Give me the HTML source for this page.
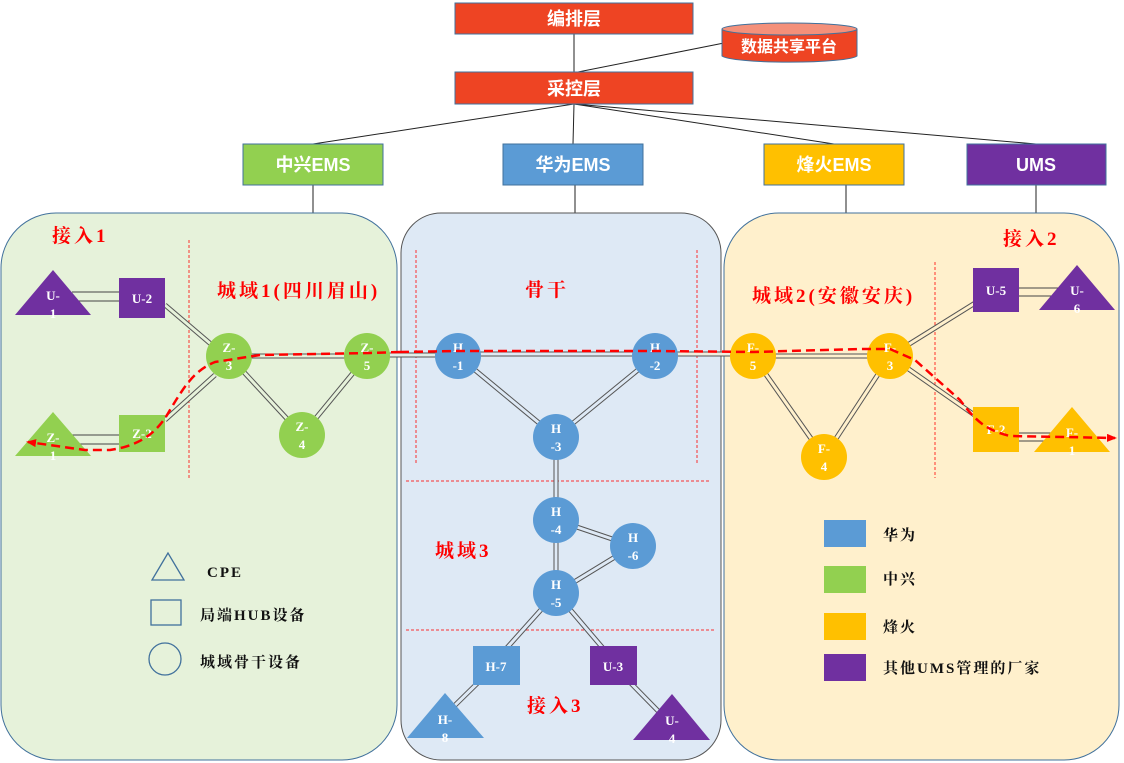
<!DOCTYPE html>
<html><head><meta charset="utf-8"><style>
html,body{margin:0;padding:0;background:#fff;width:1124px;height:763px;overflow:hidden}
svg{display:block}
.t{font-family:"Liberation Serif","Noto Serif CJK SC",serif;font-weight:bold;fill:#fff;font-size:13px;text-anchor:middle}
.r{font-family:"Liberation Serif","Noto Serif CJK SC",serif;font-weight:bold;fill:#f00;font-size:19px;letter-spacing:3px}
.h{font-family:"Liberation Sans","Noto Sans CJK SC",sans-serif;font-weight:bold;fill:#fff;font-size:18px;text-anchor:middle}
.l{font-family:"Liberation Serif","Noto Serif CJK SC",serif;font-weight:bold;fill:#111;font-size:15px;letter-spacing:2px}
</style></head><body>
<svg width="1124" height="763" viewBox="0 0 1124 763" xmlns="http://www.w3.org/2000/svg">
<defs>
<marker id="ar" markerWidth="10" markerHeight="8" refX="8" refY="4" orient="auto" markerUnits="userSpaceOnUse"><path d="M0,0 L10,4 L0,8 z" fill="#f00"/></marker>
</defs>
<g stroke="#222" stroke-width="1">
<line x1="574" y1="34" x2="574" y2="72"/>
<line x1="724" y1="43" x2="578" y2="72"/>
<line x1="574" y1="104" x2="313" y2="144"/>
<line x1="574" y1="104" x2="573" y2="144"/>
<line x1="574" y1="104" x2="834" y2="144"/>
<line x1="574" y1="104" x2="1036" y2="144"/>
<line x1="313" y1="185" x2="313" y2="213"/>
<line x1="575" y1="185" x2="575" y2="213"/>
<line x1="846" y1="185" x2="846" y2="213"/>
<line x1="1036" y1="185" x2="1036" y2="213"/>
</g>
<rect x="455" y="3" width="238" height="31" fill="#EE4423" stroke="#41719C"/>
<text x="574" y="25" class="h">编排层</text>
<rect x="455" y="72" width="238" height="32" fill="#EE4423" stroke="#41719C"/>
<text x="574" y="95" class="h">采控层</text>
<path d="M722,29 L722,56 A68,7 0 0 0 857,56 L857,29" fill="#EE4423" stroke="#41719C"/>
<ellipse cx="789.5" cy="29" rx="67.5" ry="6" fill="#F4907A" stroke="#41719C"/>
<text x="789" y="52" class="h" style="font-size:16px">数据共享平台</text>
<rect x="243" y="144" width="140" height="41" fill="#92D050" stroke="#41719C"/>
<text x="313" y="171" class="h">中兴EMS</text>
<rect x="503" y="144" width="140" height="41" fill="#5B9BD5" stroke="#41719C"/>
<text x="573" y="171" class="h">华为EMS</text>
<rect x="764" y="144" width="140" height="41" fill="#FFC000" stroke="#41719C"/>
<text x="834" y="171" class="h">烽火EMS</text>
<rect x="967" y="144" width="139" height="41" fill="#7030A0" stroke="#41719C"/>
<text x="1036" y="171" class="h">UMS</text>
<rect x="1" y="213" width="396" height="547" rx="55" fill="#E6F2DA" stroke="#41719C"/>
<rect x="401" y="213" width="320" height="547" rx="40" fill="#DEE9F5" stroke="#555"/>
<rect x="724" y="213" width="395" height="547" rx="55" fill="#FFF0CC" stroke="#41719C"/>
<g stroke="#f00" stroke-width="1" stroke-dasharray="3,2" fill="none" opacity="0.8">
<line x1="189" y1="240" x2="189" y2="478"/>
<line x1="416" y1="250" x2="416" y2="465"/>
<line x1="697" y1="250" x2="697" y2="465"/>
<line x1="935" y1="262" x2="935" y2="478"/>
<line x1="406" y1="481" x2="711" y2="481"/>
<line x1="406" y1="630" x2="714" y2="630"/>
</g>
<g fill="none">
<g stroke="#555" stroke-width="5">
<line x1="165" y1="305" x2="212" y2="345"/>
<line x1="165" y1="420" x2="215" y2="375"/>
<line x1="229" y1="356" x2="367" y2="356"/>
<line x1="229" y1="356" x2="302" y2="435"/>
<line x1="302" y1="435" x2="367" y2="356"/>
<line x1="367" y1="355" x2="458" y2="355"/>
<line x1="458" y1="356" x2="556" y2="437"/>
<line x1="655" y1="356" x2="556" y2="437"/>
<line x1="458" y1="354" x2="655" y2="354"/>
<line x1="556" y1="437" x2="556" y2="593"/>
<line x1="556" y1="520" x2="633" y2="546"/>
<line x1="633" y1="546" x2="556" y2="593"/>
<line x1="556" y1="593" x2="496" y2="660"/>
<line x1="556" y1="593" x2="613" y2="660"/>
<line x1="496" y1="665" x2="445" y2="715"/>
<line x1="613" y1="665" x2="665" y2="718"/>
<line x1="655" y1="354" x2="753" y2="354"/>
<line x1="753" y1="356" x2="890" y2="356"/>
<line x1="753" y1="356" x2="824" y2="457"/>
<line x1="824" y1="457" x2="890" y2="356"/>
<line x1="890" y1="356" x2="996" y2="290"/>
<line x1="890" y1="356" x2="996" y2="430"/>
</g>
<g stroke-width="3">
<line x1="165" y1="305" x2="212" y2="345" stroke="#E6F2DA"/>
<line x1="165" y1="420" x2="215" y2="375" stroke="#E6F2DA"/>
<line x1="229" y1="356" x2="367" y2="356" stroke="#E6F2DA"/>
<line x1="229" y1="356" x2="302" y2="435" stroke="#E6F2DA"/>
<line x1="302" y1="435" x2="367" y2="356" stroke="#E6F2DA"/>
<line x1="367" y1="355" x2="458" y2="355" stroke="#E2EDE8"/>
<line x1="458" y1="356" x2="556" y2="437" stroke="#DEE9F5"/>
<line x1="655" y1="356" x2="556" y2="437" stroke="#DEE9F5"/>
<line x1="458" y1="354" x2="655" y2="354" stroke="#DEE9F5"/>
<line x1="556" y1="437" x2="556" y2="593" stroke="#DEE9F5"/>
<line x1="556" y1="520" x2="633" y2="546" stroke="#DEE9F5"/>
<line x1="633" y1="546" x2="556" y2="593" stroke="#DEE9F5"/>
<line x1="556" y1="593" x2="496" y2="660" stroke="#DEE9F5"/>
<line x1="556" y1="593" x2="613" y2="660" stroke="#DEE9F5"/>
<line x1="496" y1="665" x2="445" y2="715" stroke="#DEE9F5"/>
<line x1="613" y1="665" x2="665" y2="718" stroke="#DEE9F5"/>
<line x1="655" y1="354" x2="753" y2="354" stroke="#F0EDDE"/>
<line x1="753" y1="356" x2="890" y2="356" stroke="#FFF0CC"/>
<line x1="753" y1="356" x2="824" y2="457" stroke="#FFF0CC"/>
<line x1="824" y1="457" x2="890" y2="356" stroke="#FFF0CC"/>
<line x1="890" y1="356" x2="996" y2="290" stroke="#FFF0CC"/>
<line x1="890" y1="356" x2="996" y2="430" stroke="#FFF0CC"/>
</g>
<g stroke="#444" stroke-width="1">
<line x1="72" y1="292" x2="119" y2="292"/>
<line x1="72" y1="301" x2="119" y2="301"/>
<line x1="72" y1="435" x2="119" y2="435"/>
<line x1="72" y1="444" x2="119" y2="444"/>
<line x1="1019" y1="288" x2="1060" y2="288"/>
<line x1="1019" y1="296" x2="1060" y2="296"/>
<line x1="1019" y1="433" x2="1055" y2="433"/>
<line x1="1019" y1="441" x2="1055" y2="441"/>
</g>
</g>
<polygon points="53,270 15,315 91,315" fill="#7030A0"/>
<text x="53" y="300" class="t">U-</text><text x="53" y="318" class="t">1</text>
<rect x="119" y="278" width="46" height="40" fill="#7030A0"/>
<text x="142" y="303" class="t">U-2</text>
<polygon points="53,412 15,456 91,456" fill="#92D050"/>
<text x="53" y="442" class="t">Z-</text><text x="53" y="460" class="t">1</text>
<rect x="119" y="415" width="46" height="37" fill="#92D050"/>
<text x="142" y="438" class="t">Z-2</text>
<g fill="#92D050">
<circle cx="229" cy="356" r="23"/><circle cx="367" cy="356" r="23"/><circle cx="302" cy="435" r="23"/>
</g>
<text x="229" y="352" class="t">Z-</text><text x="229" y="370" class="t">3</text>
<text x="367" y="352" class="t">Z-</text><text x="367" y="370" class="t">5</text>
<text x="302" y="431" class="t">Z-</text><text x="302" y="449" class="t">4</text>
<g fill="#5B9BD5">
<circle cx="458" cy="356" r="23"/><circle cx="655" cy="356" r="23"/><circle cx="556" cy="437" r="23"/>
<circle cx="556" cy="520" r="23"/><circle cx="633" cy="546" r="23"/><circle cx="556" cy="593" r="23"/>
<rect x="473" y="646" width="47" height="39"/>
<polygon points="445,693 407,738 484,738"/>
</g>
<text x="458" y="352" class="t">H</text><text x="458" y="370" class="t">-1</text>
<text x="655" y="352" class="t">H</text><text x="655" y="370" class="t">-2</text>
<text x="556" y="433" class="t">H</text><text x="556" y="451" class="t">-3</text>
<text x="556" y="516" class="t">H</text><text x="556" y="534" class="t">-4</text>
<text x="633" y="542" class="t">H</text><text x="633" y="560" class="t">-6</text>
<text x="556" y="589" class="t">H</text><text x="556" y="607" class="t">-5</text>
<text x="496" y="671" class="t">H-7</text>
<text x="445" y="724" class="t">H-</text><text x="445" y="742" class="t">8</text>
<rect x="590" y="646" width="47" height="39" fill="#7030A0"/>
<text x="613" y="671" class="t">U-3</text>
<polygon points="672,694 633,740 710,740" fill="#7030A0"/>
<text x="672" y="725" class="t">U-</text><text x="672" y="743" class="t">4</text>
<g fill="#FFC000">
<circle cx="753" cy="356" r="23"/><circle cx="890" cy="356" r="23"/><circle cx="824" cy="457" r="23"/>
<rect x="973" y="407" width="46" height="45"/>
<polygon points="1072,407 1034,452 1110,452"/>
</g>
<text x="753" y="352" class="t">F-</text><text x="753" y="370" class="t">5</text>
<text x="890" y="352" class="t">F-</text><text x="890" y="370" class="t">3</text>
<text x="824" y="453" class="t">F-</text><text x="824" y="471" class="t">4</text>
<text x="996" y="434" class="t">F-2</text>
<text x="1072" y="437" class="t">F-</text><text x="1072" y="455" class="t">1</text>
<rect x="973" y="268" width="46" height="44" fill="#7030A0"/>
<text x="996" y="295" class="t">U-5</text>
<polygon points="1077,265 1039,310 1115,310" fill="#7030A0"/>
<text x="1077" y="295" class="t">U-</text><text x="1077" y="313" class="t">6</text>
<path d="M400,352 L370,353 L260,355 L215,362 C195,370 185,385 170,410 C160,428 145,445 110,450 L85,450 L28,442" fill="none" stroke="#f00" stroke-width="2.5" stroke-dasharray="9,5" marker-end="url(#ar)"/>
<path d="M400,352 L458,351 L655,351 L753,352 L860,349 L890,349 L915,360 L960,400 C975,420 985,430 1010,436 L1115,438" fill="none" stroke="#f00" stroke-width="2.5" stroke-dasharray="9,5" marker-end="url(#ar)"/>
<text x="52" y="242" class="r">接入1</text>
<text x="217" y="297" class="r">城域1(四川眉山)</text>
<text x="525" y="296" class="r">骨干</text>
<text x="752" y="302" class="r">城域2(安徽安庆)</text>
<text x="1003" y="245" class="r">接入2</text>
<text x="435" y="557" class="r">城域3</text>
<text x="527" y="712" class="r">接入3</text>
<polygon points="168,553 152,580 184,580" fill="none" stroke="#41719C" stroke-width="1.3"/>
<text x="207" y="577" class="l">CPE</text>
<rect x="151" y="600" width="30" height="25" fill="none" stroke="#41719C" stroke-width="1.3"/>
<text x="200" y="620" class="l">局端HUB设备</text>
<circle cx="165" cy="659" r="16" fill="none" stroke="#41719C" stroke-width="1.3"/>
<text x="200" y="667" class="l">城域骨干设备</text>
<rect x="824" y="520" width="42" height="27" fill="#5B9BD5"/>
<text x="883" y="540" class="l">华为</text>
<rect x="824" y="566" width="42" height="27" fill="#92D050"/>
<text x="883" y="584" class="l">中兴</text>
<rect x="824" y="613" width="42" height="27" fill="#FFC000"/>
<text x="883" y="632" class="l">烽火</text>
<rect x="824" y="654" width="42" height="27" fill="#7030A0"/>
<text x="883" y="673" class="l">其他UMS管理的厂家</text>
</svg>
</body></html>
